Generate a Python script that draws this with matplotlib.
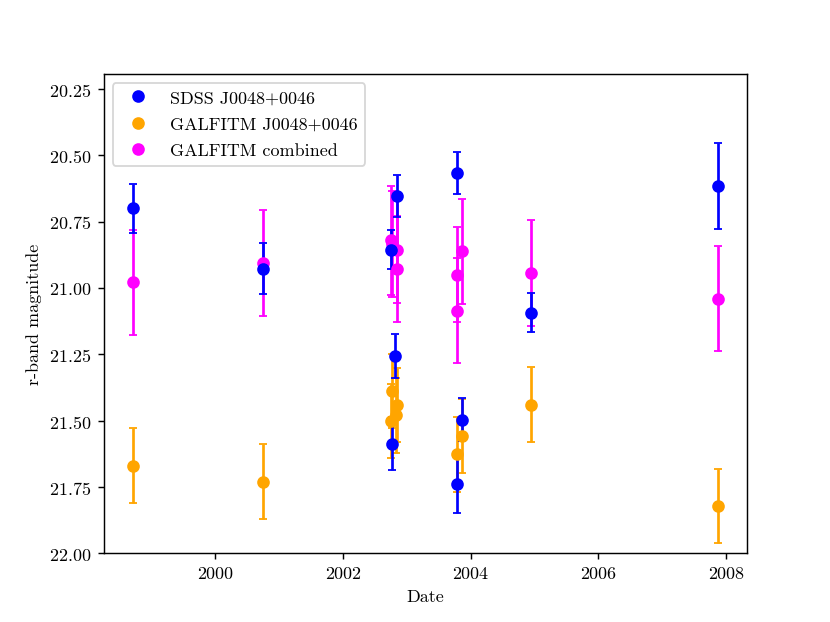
import pandas as pd
import matplotlib
matplotlib.use('Agg')
import matplotlib.pyplot as plt
import matplotlib.dates as mdates
from matplotlib.lines import Line2D

plt.rcParams['font.family'] = 'serif'
plt.rcParams['font.serif'] = ['cmr10']
plt.rcParams['mathtext.fontset'] = 'cm'
plt.rcParams['axes.formatter.use_mathtext'] = True

# SDSS photometry
sdss_dates = ['1998-09-20', '2000-10-01', '2002-10-03', '2002-10-09', '2002-10-26',
              '2002-11-06', '2003-10-15', '2003-10-15', '2003-11-16', '2004-12-11', '2007-11-16']
sdss_mag = [20.70, 20.927, 20.856, 21.586, 21.257, 20.653, 20.567, 21.74, 21.496, 21.093, 20.615]
sdss_err = [0.092, 0.095, 0.073, 0.10, 0.083, 0.08, 0.08, 0.107, 0.082, 0.074, 0.162]

# GALFITM fit of the single object
gal_dates = ['1998-09-20', '2000-10-01', '2002-10-03', '2002-10-09', '2002-10-31',
             '2002-11-06', '2003-10-15', '2003-11-16', '2004-12-11', '2007-11-16']
gal_mag = [21.669, 21.729, 21.50, 21.387, 21.48, 21.44, 21.627, 21.558, 21.439, 21.822]
gal_err = [0.14, 0.14, 0.14, 0.14, 0.14, 0.14, 0.14, 0.14, 0.14, 0.14]

# GALFITM combined
comb_dates = ['1998-09-20', '2000-10-01', '2002-10-03', '2002-10-09', '2002-11-06',
              '2002-11-06', '2003-10-15', '2003-10-15', '2003-11-16', '2004-12-11', '2007-11-16']
comb_mag = [20.978, 20.905, 20.82, 20.835, 20.856, 20.93, 20.95, 21.086, 20.862, 20.944, 21.04]
comb_err = [0.198, 0.2, 0.205, 0.2, 0.2, 0.2, 0.18, 0.197, 0.197, 0.2, 0.198]

fig, ax = plt.subplots(figsize=(6.4, 4.8), dpi=129.75)

ax.errorbar(pd.to_datetime(comb_dates), comb_mag, yerr=comb_err, fmt='o', color='magenta', capsize=2)
ax.errorbar(pd.to_datetime(gal_dates), gal_mag, yerr=gal_err, fmt='o', color='orange', capsize=2)
ax.errorbar(pd.to_datetime(sdss_dates), sdss_mag, yerr=sdss_err, fmt='o', color='blue', capsize=2)

handles = [Line2D([], [], marker='o', ls='', color='blue', label='SDSS J0048+0046'),
           Line2D([], [], marker='o', ls='', color='orange', label='GALFITM J0048+0046'),
           Line2D([], [], marker='o', ls='', color='magenta', label='GALFITM combined')]
ax.legend(handles=handles, loc='upper left', labelspacing=0.6)

ax.xaxis.set_major_locator(mdates.YearLocator(2))
ax.xaxis.set_major_formatter(mdates.DateFormatter('%Y'))
ax.set_ylim(22.0, 20.194)
ax.set_xlabel('Date')
ax.set_ylabel('r-band magnitude')

plt.savefig('out.png')
